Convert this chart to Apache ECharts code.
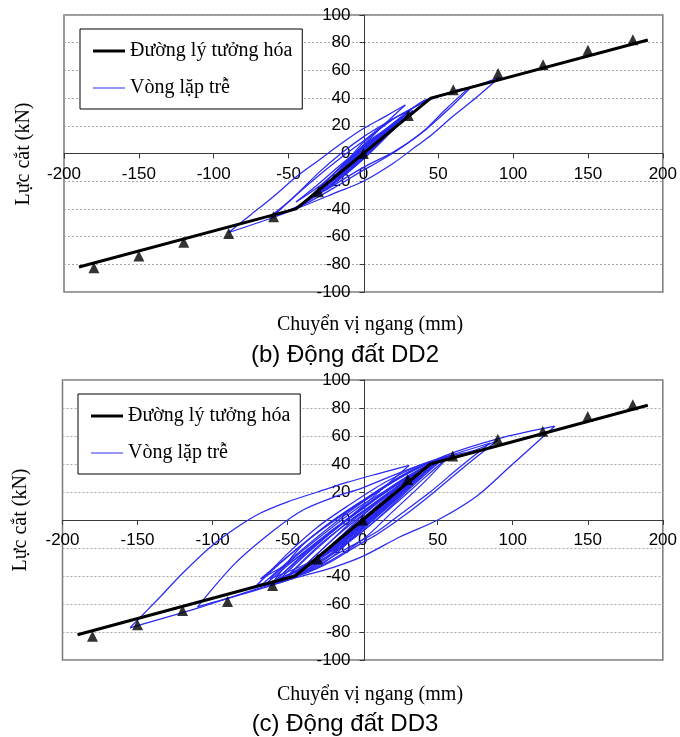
<!DOCTYPE html>
<html>
<head>
<meta charset="utf-8">
<script src="https://cdn.jsdelivr.net/npm/echarts@6/dist/echarts.min.js"></script>
<style>
html, body { margin: 0; padding: 0; background: #fff; }
#chart { width: 680px; height: 737px; }
</style>
</head>
<body>
<div id="chart"></div>
<script>
// đường lý tưởng hóa (giống nhau cho cả hai hình)
const idealLine = [[-190, -82], [-45, -40], [45, 40], [190, 82]];

// điểm thí nghiệm (tam giác)
const testDisp = [-180, -150, -120, -90, -60, -30, 0, 30, 60, 90, 120, 150, 180];
const testDD2 = [-82.5, -74, -64, -57.7, -45.7, -27.6, 0, 27.4, 46, 57.7, 64, 74.5, 82.2];
const testDD3 = [-83, -74.8, -64.6, -58.2, -46.8, -27.8, 0, 29, 45.8, 57.7, 63.4, 74, 82.4];

// vòng lặp trễ DD2 - mỗi nhánh là một đoạn đơn điệu theo x
const loopsDD2 = [
    [[0, 0], [8, 7], [15, 13]],
    [[15, 13], [8, 5], [0, -2], [-12, -12]],
    [[-12, -12], [-4, -4], [5, 5], [18, 16]],
    [[18, 16], [8, 6], [0, -1], [-10, -11], [-20, -19]],
    [[-20, -19], [-10, -8], [0, 3], [12, 12], [22, 20]],
    [[22, 20], [10, 8], [0, -2], [-14, -14], [-28, -26]],
    [[-28, -26], [-15, -13], [0, 2], [15, 15], [26, 25]],
    [[26, 25], [12, 10], [0, -3], [-15, -17], [-34, -32]],
    [[-34, -32], [-18, -16], [0, 4], [15, 16], [30, 28]],
    [[30, 28], [15, 12], [0, -4], [-20, -22], [-40, -36]],
    [[-40, -36], [-20, -15], [0, 6], [18, 20], [32, 32]],
    [[32, 32], [15, 14], [0, -2], [-20, -21], [-42, -38]],
    [[-42, -38], [-25, -20], [-10, -4], [0, 8], [20, 25], [35, 34], [45, 40], [58, 44], [70, 47]],
    [[70, 47], [55, 32], [40, 16], [25, 4], [10, -6], [0, -12], [-20, -25], [-40, -37], [-55, -43], [-63, -46]],
    [[-63, -46], [-48, -33], [-30, -14], [-15, 0], [0, 12], [15, 22], [30, 31]],
    [[30, 31], [15, 16], [0, 0], [-15, -14], [-30, -25]],
    [[-30, -25], [-15, -10], [0, 4], [20, 22], [40, 38], [50, 41], [60, 44], [72, 48]],
    [[72, 48], [56, 31], [38, 14], [20, 1], [0, -10], [-20, -23], [-40, -36], [-52, -42], [-60, -45]],
    [[-60, -45], [-45, -30], [-30, -16], [-15, -3], [0, 9], [15, 22], [25, 28], [40, 37], [50, 41], [60, 45], [75, 49], [91, 55]],
    [[91, 55], [75, 40], [60, 27], [45, 13], [35, 5], [20, -7], [0, -20], [-20, -29], [-45, -40], [-65, -48], [-90, -57]],
    [[-90, -57], [-75, -44], [-60, -31], [-45, -17], [-30, -5], [-15, 7], [0, 18], [15, 27], [28, 35]],
    [[28, 35], [15, 22], [0, 6], [-15, -10], [-30, -24], [-45, -35]],
    [[-45, -35], [-30, -22], [-15, -8], [0, 5], [15, 17], [25, 25]],
    [[25, 25], [10, 10], [0, 0], [-10, -10], [-25, -22]],
    [[-25, -22], [-10, -7], [0, 3], [12, 12]],
    [[12, 12], [0, -1], [-8, -8]],
    [[-8, -8], [0, 1], [10, 11], [22, 21], [33, 31]],
    [[33, 31], [18, 15], [0, -4], [-18, -20], [-36, -33]],
    [[-36, -33], [-20, -17], [0, 5], [14, 16], [27, 27]],
    [[27, 27], [12, 11], [0, -1], [-16, -16], [-30, -28]],
    [[-30, -28], [-16, -13], [0, 3], [16, 17], [24, 23]],
    [[24, 23], [10, 8], [0, -2], [-12, -13], [-22, -21]],
    [[-22, -21], [-8, -6], [0, 2], [10, 10]]
];

// vòng lặp trễ DD3
const loopsDD3 = [
    [[0, 0], [10, 8], [20, 16]],
    [[20, 16], [10, 6], [0, -3], [-18, -17]],
    [[-18, -17], [-5, -4], [10, 10], [30, 26]],
    [[30, 26], [15, 10], [0, -5], [-15, -17], [-32, -29]],
    [[-32, -29], [-15, -12], [0, 3], [20, 21], [42, 37]],
    [[42, 37], [25, 20], [5, 0], [-15, -18], [-45, -39]],
    [[-45, -39], [-25, -19], [-5, 1], [15, 17], [35, 32], [55, 45]],
    [[55, 45], [35, 26], [15, 6], [0, -8], [-25, -28], [-50, -42], [-68, -47]],
    [[-68, -47], [-50, -30], [-30, -12], [-10, 5], [10, 20], [30, 34], [52, 44]],
    [[52, 44], [30, 22], [10, 3], [-10, -15], [-35, -34], [-60, -45]],
    [[-60, -45], [-40, -26], [-20, -8], [0, 9], [25, 28], [48, 42], [60, 46], [75, 50], [90, 57]],
    [[90, 57], [70, 40], [50, 22], [30, 5], [10, -10], [0, -16], [-25, -32], [-50, -43], [-80, -53], [-110, -62]],
    [[-110, -62], [-85, -31], [-60, -8], [-40, 7], [-20, 16], [0, 23], [30, 36], [55, 45], [85, 55]],
    [[85, 55], [65, 38], [45, 20], [25, 4], [10, -8], [-10, -20], [-35, -35], [-60, -45], [-72, -48]],
    [[-72, -48], [-55, -31], [-35, -13], [-15, 3], [5, 17], [30, 33], [55, 46], [90, 58], [128, 67]],
    [[128, 67], [98, 38], [76, 17], [50, 0], [25, -12], [0, -26], [-20, -34], [-40, -40], [-70, -49], [-110, -63], [-155, -77]],
    [[-155, -77], [-135, -55], [-120, -38], [-100, -18], [-82, -4], [-68, 5], [-50, 13], [-30, 20], [-10, 27], [10, 33], [31, 39]],
    [[31, 39], [15, 24], [0, 10], [-20, -8], [-45, -28], [-68, -42]],
    [[-68, -42], [-50, -26], [-30, -9], [-10, 6], [15, 24], [40, 39], [57, 45]],
    [[57, 45], [40, 29], [20, 10], [0, -8], [-25, -27], [-50, -40], [-65, -46]],
    [[-65, -46], [-45, -28], [-25, -11], [0, 8], [25, 27], [50, 42]],
    [[50, 42], [30, 23], [10, 4], [-10, -13], [-35, -30], [-62, -42]],
    [[-62, -42], [-40, -22], [-20, -5], [0, 11], [20, 24], [45, 40]],
    [[45, 40], [25, 20], [5, 1], [-20, -20], [-50, -40]],
    [[-50, -40], [-30, -19], [-10, -2], [10, 14], [35, 33]],
    [[35, 33], [15, 12], [0, -2], [-20, -21], [-40, -34]],
    [[-40, -34], [-20, -14], [0, 4], [22, 22]],
    [[22, 22], [5, 4], [-10, -9]],
    [[-10, -9], [5, 6], [25, 24], [48, 41]],
    [[48, 41], [30, 24], [10, 5], [-10, -12], [-35, -31], [-58, -43]],
    [[-58, -43], [-40, -25], [-20, -7], [0, 9], [20, 23], [42, 38]],
    [[42, 38], [25, 21], [5, 2], [-15, -17], [-40, -34], [-55, -42]],
    [[-55, -42], [-35, -22], [-15, -4], [5, 12], [30, 31], [52, 43]],
    [[52, 43], [32, 25], [12, 6], [-8, -12], [-30, -28], [-48, -38]],
    [[-48, -38], [-28, -18], [-8, 0], [12, 15], [33, 31]],
    [[33, 31], [15, 13], [-5, -6], [-25, -23]],
    [[-25, -23], [-5, -3], [15, 13]],
    [[15, 13], [0, -6], [-25, -30], [-55, -44], [-70, -46]],
    [[-70, -46], [-50, -24], [-30, -5], [-10, 10], [15, 27], [40, 40], [58, 46]],
    [[58, 46], [40, 26], [20, 6], [0, -14], [-30, -34], [-60, -45]],
    [[-60, -45], [-42, -20], [-22, -2], [0, 14], [25, 31], [45, 41]],
    [[45, 41], [25, 18], [5, -2], [-20, -24], [-45, -38]]
];

const NAME_IDEAL = 'Đường lý tưởng hóa';
const NAME_LOOP = 'Vòng lặp trễ';
const Y_TITLE = 'Lực cắt (kN)';
const X_TITLE = 'Chuyển vị ngang (mm)';
const captions = ['(b) Động đất DD2', '(c) Động đất DD3'];

const LOOP_COLOR = '#2a2af4';

// bố cục hai hình
const panels = [
    { loops: loopsDD2, test: testDD2, left: 64, top: 15, width: 601, height: 277, legendTop: 29, legendLeft: 80, yTitle: [24, 154], xTitle: [370, 325], caption: [345, 355] },
    { loops: loopsDD3, test: testDD3, left: 62.5, top: 380, width: 604, height: 280, legendTop: 394, legendLeft: 78, yTitle: [21, 520], xTitle: [370, 695], caption: [345, 724] }
];

const chart = echarts.init(document.getElementById('chart'));

const grids = [], xAxes = [], yAxes = [], legends = [], series = [], graphics = [];

panels.forEach((p, i) => {
    grids.push({
        left: p.left, top: p.top, width: p.width, height: p.height,
        show: true, borderColor: '#7a7a7a', borderWidth: 1.5, backgroundColor: 'transparent'
    });
    // trục nằm giữa khung (vị trí 0), dùng offset âm
    xAxes.push({
        type: 'value', gridIndex: i, min: -200, max: 200, interval: 50,
        position: 'bottom', offset: -p.height / 2,
        axisLine: { onZero: false, lineStyle: { color: '#3a3a3a', width: 1 } },
        axisTick: { show: true, length: 5, lineStyle: { color: '#3a3a3a' } },
        axisLabel: { margin: 12, color: '#000', fontFamily: 'Liberation Sans', fontSize: 17 },
        splitLine: { show: false }
    });
    yAxes.push({
        type: 'value', gridIndex: i, min: -100, max: 100, interval: 20,
        position: 'left', offset: -p.width / 2,
        axisLine: { onZero: false, lineStyle: { color: '#3a3a3a', width: 1 } },
        axisTick: { show: true, length: 5, lineStyle: { color: '#3a3a3a' } },
        axisLabel: { margin: 14, color: '#000', fontFamily: 'Liberation Sans', fontSize: 17 },
        splitLine: { show: true, lineStyle: { color: '#a8a8a8', type: [2, 2], width: 1 } }
    });
    legends.push({
        data: [
            { name: NAME_IDEAL, icon: 'path://M0,0H32V3H0Z', itemStyle: { color: '#000' } },
            { name: NAME_LOOP, icon: 'path://M0,0H32V1H0Z', itemStyle: { color: LOOP_COLOR } }
        ],
        orient: 'vertical', left: p.legendLeft, top: p.legendTop,
        padding: [11, 10, 10, 13], itemGap: 15,
        itemWidth: 32, itemHeight: 14, symbolKeepAspect: true,
        backgroundColor: '#fff', borderColor: '#000', borderWidth: 1,
        textStyle: { fontFamily: 'Liberation Serif', fontSize: 20, color: '#000', lineHeight: 22 },
        selectedMode: false
    });

    p.loops.forEach(branch => {
        series.push({
            type: 'line', name: NAME_LOOP, xAxisIndex: i, yAxisIndex: i,
            data: branch, smooth: 0.3,
            symbol: 'none', itemStyle: { color: LOOP_COLOR },
            lineStyle: { color: LOOP_COLOR, width: 1.25 },
            z: 2, silent: true
        });
    });
    series.push({
        type: 'line', name: NAME_IDEAL, xAxisIndex: i, yAxisIndex: i,
        data: idealLine, symbol: 'none', itemStyle: { color: '#000' },
        lineStyle: { color: '#000', width: 3 }, z: 3, silent: true
    });
    series.push({
        type: 'scatter', name: 'Thí nghiệm', xAxisIndex: i, yAxisIndex: i,
        data: testDisp.map((x, k) => [x, p.test[k]]),
        symbol: 'triangle', symbolSize: [11, 11],
        itemStyle: { color: '#000' }, z: 4, silent: true
    });

    graphics.push({
        type: 'text', x: p.yTitle[0], y: p.yTitle[1], rotation: Math.PI / 2,
        style: { text: Y_TITLE, font: '20px "Liberation Serif"', fill: '#000', align: 'center', verticalAlign: 'middle' }
    });
    graphics.push({
        type: 'text', x: p.xTitle[0], y: p.xTitle[1],
        style: { text: X_TITLE, font: '20px "Liberation Serif"', fill: '#000', align: 'center', verticalAlign: 'middle' }
    });
    graphics.push({
        type: 'text', x: p.caption[0], y: p.caption[1],
        style: { text: captions[i], font: '24px "Liberation Sans"', fill: '#000', align: 'center', verticalAlign: 'middle' }
    });
});

chart.setOption({
    animation: false,
    grid: grids,
    xAxis: xAxes,
    yAxis: yAxes,
    legend: legends,
    series: series,
    graphic: graphics
});
</script>
</body>
</html>
